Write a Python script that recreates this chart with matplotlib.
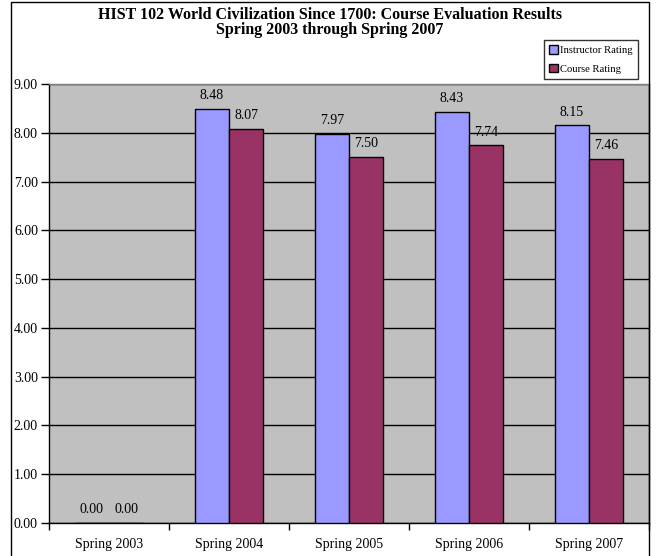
import matplotlib
matplotlib.use("Agg")
import matplotlib.pyplot as plt
import numpy as np
from matplotlib.patches import Patch, Rectangle

semesters = ["Spring 2003", "Spring 2004", "Spring 2005", "Spring 2006", "Spring 2007"]
instructor_rating = [0.00, 8.48, 7.97, 8.43, 8.15]
course_rating = [0.00, 8.07, 7.50, 7.74, 7.46]
y_ticks = [0, 1, 2, 3, 4, 5, 6, 7, 8, 9]

plt.rcParams["font.family"] = ["Liberation Serif", "DejaVu Serif"]

W, H = 660, 556
fig = plt.figure(figsize=(W / 100, H / 100), dpi=100)
fig.patch.set_facecolor("white")

# chart frame (bottom edge runs past the image)
fig.add_artist(Rectangle((11 / W, -0.05), (649 - 11) / W, (554 - 0) / H + 0.05,
                         transform=fig.transFigure, fill=False,
                         edgecolor="black", linewidth=1.0))

ax = fig.add_axes([49 / W, (H - 523) / H, (649 - 49) / W, (523 - 84) / H])
ax.set_facecolor("#C0C0C0")

x = np.arange(len(semesters))
bw = 1 / 3.5
ax.bar(x - bw / 2, instructor_rating, bw, color="#9999FF", edgecolor="black",
       linewidth=1.0, zorder=3, label="Instructor Rating")
ax.bar(x + bw / 2, course_rating, bw, color="#993366", edgecolor="black",
       linewidth=1.0, zorder=3, label="Course Rating")

for xi, v in zip(x, instructor_rating):
    ax.annotate(f"{v:.2f}", (xi - bw / 2, v), xytext=(0, 5), textcoords="offset points",
                ha="center", va="bottom", fontsize=10)
for xi, v in zip(x, course_rating):
    ax.annotate(f"{v:.2f}", (xi + bw / 2, v), xytext=(0, 5), textcoords="offset points",
                ha="center", va="bottom", fontsize=10)

ax.set_xlim(-0.5, len(semesters) - 0.5)
ax.set_ylim(0, 9)
ax.set_yticks(y_ticks)
ax.set_yticklabels([f"{t:.2f}" for t in y_ticks], fontsize=10)
ax.set_xticks(x)
ax.set_xticklabels(semesters, fontsize=10)
ax.set_xticks(np.arange(len(semesters) + 1) - 0.5, minor=True)
ax.tick_params(axis="x", which="major", length=0, pad=11)
ax.tick_params(axis="x", which="minor", length=5, width=1, direction="out")
ax.tick_params(axis="y", length=6, width=1, direction="out", pad=2)
ax.yaxis.grid(True, color="black", linewidth=1, zorder=1)
ax.set_axisbelow(True)

ax.spines["left"].set_color("black")
ax.spines["bottom"].set_color("black")
ax.spines["top"].set_color("#808080")
ax.spines["right"].set_color("black")
for s in ax.spines.values():
    s.set_linewidth(1.0)

fig.text(330 / W, 1 - 15 / H,
         "HIST 102 World Civilization Since 1700: Course Evaluation Results",
         ha="center", va="center", fontsize=11.5, fontweight="bold")
fig.text(330 / W, 1 - 30 / H, "Spring 2003 through Spring 2007",
         ha="center", va="center", fontsize=11.5, fontweight="bold")

handles = [Patch(facecolor="#9999FF", edgecolor="black"),
           Patch(facecolor="#993366", edgecolor="black")]
leg = fig.legend(handles, ["Instructor Rating", "Course Rating"],
                 loc="upper left", bbox_to_anchor=(544 / W, 1 - 40 / H),
                 fontsize=7.7, frameon=True, fancybox=False, edgecolor="black",
                 handlelength=0.8, handleheight=0.8, handletextpad=0.2,
                 borderpad=0.5, labelspacing=0.85, borderaxespad=0)
leg.get_frame().set_linewidth(1.0)

fig.savefig("out.png", dpi=100)
